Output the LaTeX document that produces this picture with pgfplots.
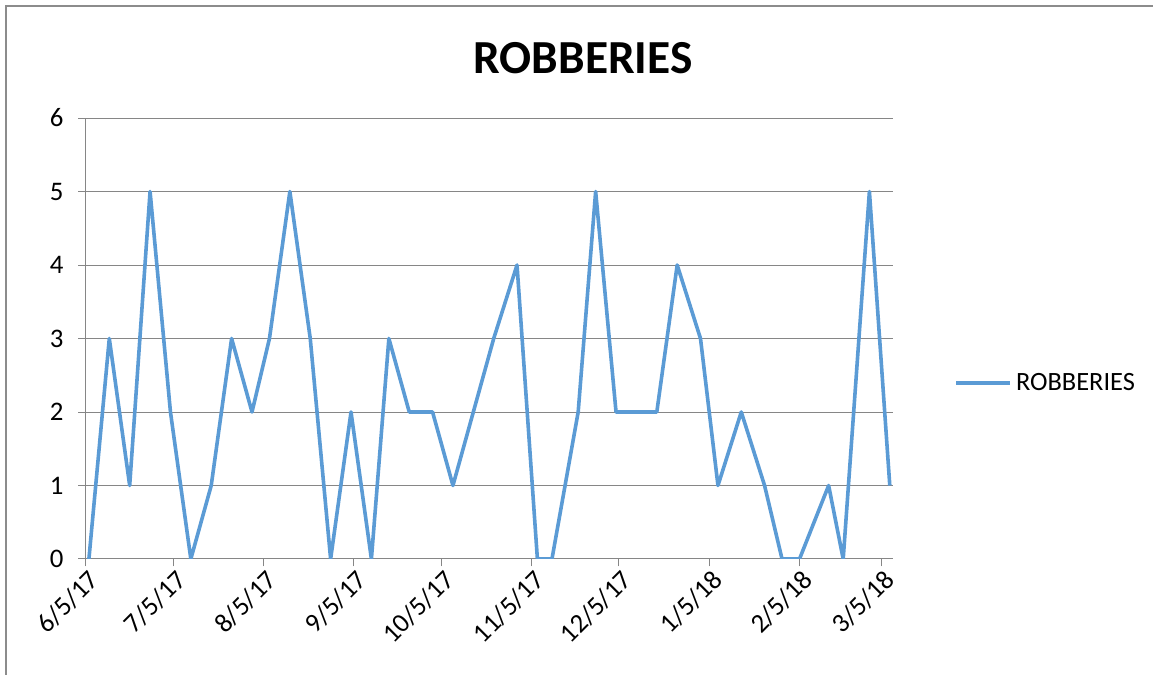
\documentclass[border=0pt]{standalone}
\usepackage{pgfplots}
\pgfplotsset{compat=1.18}
\usepackage{fontspec}
\setmainfont{Carlito}
\definecolor{serieblue}{RGB}{91,155,213}
\definecolor{gridgray}{RGB}{134,134,134}
\definecolor{framegray}{RGB}{140,140,140}

\begin{document}
\begin{tikzpicture}
% 1 px of the reference = 0.5pt; origin at the lower-left of the plot area
\useasboundingbox (-43pt,-58pt) rectangle (533.5pt,279.5pt);
\draw[framegray, line width=0.8pt] (-40pt,-60pt) -- (-40pt,276.5pt) -- (540pt,276.5pt);
\begin{axis}[
    at={(0,0)}, anchor=south west,
    scale only axis,
    width=403.5pt, height=220.5pt,
    xmin=0, xmax=277.1,
    ymin=0, ymax=6,
    ytick={0,1,...,6},
    xtick={0,30,61,92,122,153,183,214,245,273},
    xticklabels={6/5/17,7/5/17,8/5/17,9/5/17,10/5/17,11/5/17,12/5/17,1/5/18,2/5/18,3/5/18},
    axis x line=bottom, axis y line=left,
    axis line style={gridgray, line width=0.5pt, -},
    tick align=outside,
    major tick length=3.75pt,
    tick style={gridgray, line width=0.5pt},
    ymajorgrids,
    major grid style={gridgray, line width=0.5pt},
    /pgf/number format/assume math mode=true,
    ticklabel style={font=\fontsize{13.4}{15}\selectfont, text=black},
    yticklabel style={xshift=-4pt},
    xticklabel style={rotate=45, anchor=north east, inner sep=1pt, xshift=1pt},
    legend style={at={(1.0756,0.399)}, anchor=west, draw=none, fill=none,
        inner sep=0pt, font=\fontsize{13.2}{15}\selectfont,
        legend cell align=left},
    legend image code/.code={\draw[#1] (0pt,0pt) -- (27pt,0pt);},
]
\addplot[serieblue, line width=1.8pt, line join=round] table {
x y
1 0
8 3
15 1
22 5
29 2
36 0
43 1
50 3
57 2
63 3
70 5
77 3
84 0
91 2
98 0
104 3
111 2
119 2
126 1
133 2
140 3
148 4
155 0
160 0
169 2
175 5
182 2
189 2
196 2
203 4
211 3
217 1
225 2
233 1
239 0
245 0
255 1
260 0
269 5
276 1
};
\addlegendentry{ROBBERIES}
\end{axis}
\node[font=\bfseries\fontsize{23.7}{28}\selectfont, anchor=base] at (248.5pt,242.9pt) {ROBBERIES};
\end{tikzpicture}
\end{document}
